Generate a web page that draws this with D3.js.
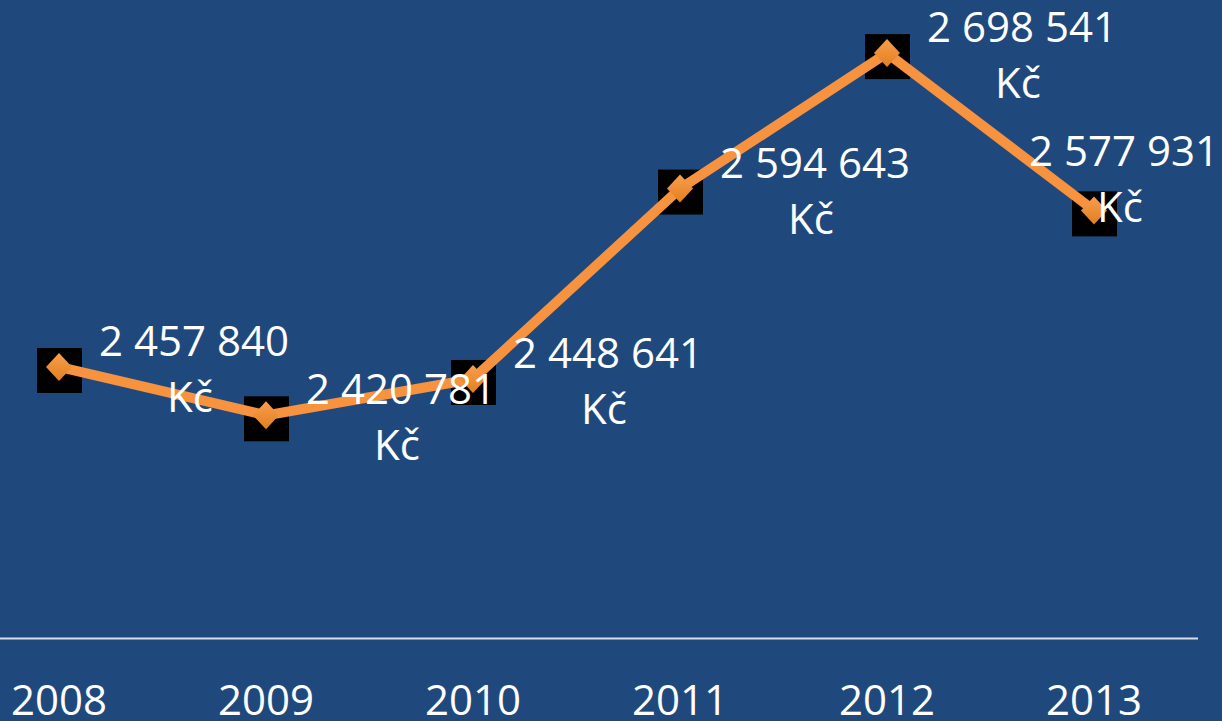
<!DOCTYPE html>
<html>
<head>
<meta charset="utf-8">
<script src="https://cdn.jsdelivr.net/npm/d3@7"></script>
<style>
    html, body { margin: 0; padding: 0; background: #1f497d; overflow: hidden; }
    svg { display: block; }
    text { font-family: "Open Sans", "Noto Sans", sans-serif; fill: #ffffff; }
</style>
</head>
<body>
<svg></svg>
<script>
const years = ['2008', '2009', '2010', '2011', '2012', '2013'];
const values = [2457840, 2420781, 2448641, 2594643, 2698541, 2577931];
const yDomain = [2250000, 2750000];

const width = 1222;
const height = 721;

const svg = d3.select('svg')
    .attr('width', width)
    .attr('height', height);

svg.append('rect')
    .attr('width', width)
    .attr('height', height)
    .attr('fill', '#1f497d');

const defs = svg.append('defs');
const grad = defs.append('linearGradient')
    .attr('id', 'diamondFill')
    .attr('x1', 0).attr('y1', 0)
    .attr('x2', 0).attr('y2', 1);
grad.append('stop').attr('offset', '0%').attr('stop-color', '#f99d4e');
grad.append('stop').attr('offset', '100%').attr('stop-color', '#e2801f');

// plot area is partly cut off at the left and top of the picture
const x = d3.scaleBand()
    .domain(years)
    .range([-44.5, 1197.5]);

const y = d3.scaleLinear()
    .domain(yDomain)
    .range([638, -14]);

const data = years.map((yr, i) => ({ year: yr, value: values[i] }));
const cx = d => x(d.year) + x.bandwidth() / 2;

// category axis
const xAxis = svg.append('g')
    .attr('transform', `translate(0,${y(yDomain[0])})`)
    .call(d3.axisBottom(x).tickSize(0).tickPadding(50));
xAxis.select('.domain')
    .attr('stroke', '#d9dde6')
    .attr('stroke-width', 2);
xAxis.selectAll('text')
    .attr('font-size', 42)
    .attr('fill', '#ffffff')
    .attr('dy', 0)
    .attr('y', 77)
    .style('font-family', '"Open Sans", sans-serif');

// black marker backgrounds
svg.append('g')
    .selectAll('rect')
    .data(data)
    .enter().append('rect')
    .attr('x', d => cx(d) - 22)
    .attr('y', d => y(d.value) - 19)
    .attr('width', 45)
    .attr('height', 45)
    .attr('fill', '#000000');

// series line
const line = d3.line()
    .x(cx)
    .y(d => y(d.value));

svg.append('path')
    .datum(data)
    .attr('d', line)
    .attr('fill', 'none')
    .attr('stroke', '#f7923f')
    .attr('stroke-width', 10)
    .attr('stroke-linejoin', 'miter');

// diamond markers
svg.append('g')
    .selectAll('path')
    .data(data)
    .enter().append('path')
    .attr('transform', d => `translate(${cx(d)},${y(d.value)})`)
    .attr('d', 'M0,-14L13,0L0,14L-13,0Z')
    .attr('fill', 'url(#diamondFill)');

// data labels
const fmt = v => d3.format(',')(v).replace(/,/g, ' ');
const labels = svg.append('g')
    .selectAll('text')
    .data(data)
    .enter().append('text')
    .attr('font-size', 42)
    .attr('text-anchor', 'middle')
    .each(function (d, i) {
        let lx = cx(d) + 135;
        let ly = y(d.value) - 11;
        // keep the last label inside the picture
        if (lx + 95 > width) {
            lx = width - 98;
            ly = y(d.value) - 44;
        }
        const t = d3.select(this);
        t.append('tspan').attr('x', lx).attr('y', ly).text(fmt(d.value));
        t.append('tspan').attr('x', lx - 4).attr('y', ly + 56).text('Kč');
    });
</script>
</body>
</html>
